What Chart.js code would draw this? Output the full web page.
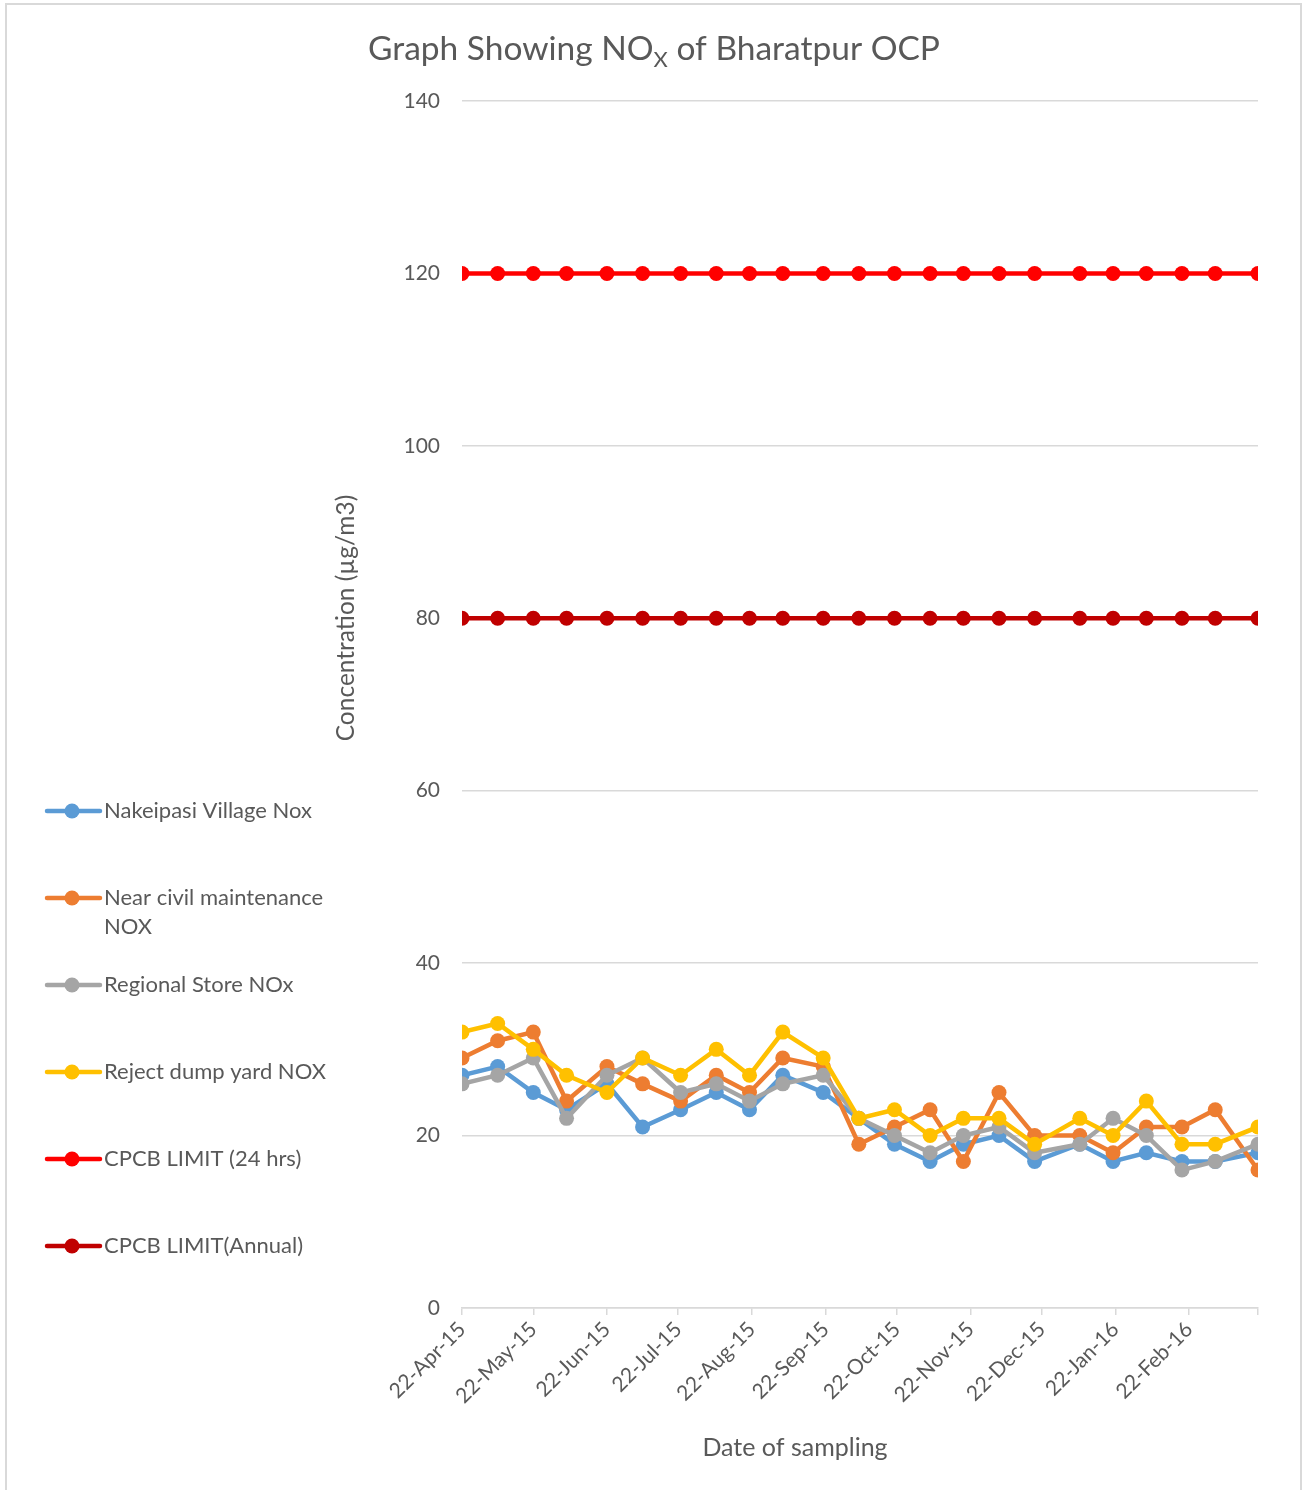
<!DOCTYPE html>
<html>
<head>
<meta charset="utf-8">
<script src="https://cdn.jsdelivr.net/npm/chart.js@4.4.1/dist/chart.umd.min.js"></script>
<style>
html,body{margin:0;padding:0;background:#fff;}
#wrap{position:relative;width:1304px;height:1490px;}
</style>
</head>
<body>
<div id="wrap"><canvas id="c" width="1304" height="1490"></canvas></div>
<script>
// ---------------- DATA ----------------
const sampleDates = ['22-Apr-15','07-May-15','22-May-15','05-Jun-15','22-Jun-15','07-Jul-15','23-Jul-15','07-Aug-15','21-Aug-15','04-Sep-15','21-Sep-15','06-Oct-15','21-Oct-15','05-Nov-15','19-Nov-15','04-Dec-15','19-Dec-15','07-Jan-16','21-Jan-16','04-Feb-16','19-Feb-16','04-Mar-16','22-Mar-16'];
const tickLabels = ['22-Apr-15','22-May-15','22-Jun-15','22-Jul-15','22-Aug-15','22-Sep-15','22-Oct-15','22-Nov-15','22-Dec-15','22-Jan-16','22-Feb-16'];
const axisEndDate = '22-Mar-16';
const seriesNames = ['Nakeipasi Village Nox','Near civil maintenance NOX','Regional Store NOx','Reject dump yard NOX','CPCB LIMIT (24 hrs)','CPCB LIMIT(Annual)'];
const nakeipasi   = [27,28,25,23,26,21,23,25,23,27,25,22,19,17,19,20,17,19,17,18,17,17,18];
const civilMaint  = [29,31,32,24,28,26,24,27,25,29,28,19,21,23,17,25,20,20,18,21,21,23,16];
const regStore    = [26,27,29,22,27,29,25,26,24,26,27,22,20,18,20,21,18,19,22,20,16,17,19];
const rejectDump  = [32,33,30,27,25,29,27,30,27,32,29,22,23,20,22,22,19,22,20,24,19,19,21];
const limit24h    = [120,120,120,120,120,120,120,120,120,120,120,120,120,120,120,120,120,120,120,120,120,120,120];
const limitAnnual = [80,80,80,80,80,80,80,80,80,80,80,80,80,80,80,80,80,80,80,80,80,80,80];
const yTicks = [0,20,40,60,80,100,120,140];

// ---------------- HELPERS ----------------
const MONTHS = ['Jan','Feb','Mar','Apr','May','Jun','Jul','Aug','Sep','Oct','Nov','Dec'];
function dayNum(s){
  const p = s.split('-');
  return Date.UTC(2000 + parseInt(p[2],10), MONTHS.indexOf(p[1]), parseInt(p[0],10)) / 86400000;
}
const xVals = sampleDates.map(dayNum);
const tickVals = tickLabels.map(dayNum).concat([dayNum(axisEndDate)]);
const pts = arr => arr.map((v,i)=>({x:xVals[i], y:v}));

const FONT = 'Lato, "Open Sans", sans-serif';
const TXT = '#595959';
const colors = ['#5B9BD5','#ED7D31','#A5A5A5','#FFC000','#FF0000','#C00000'];
const seriesData = [nakeipasi, civilMaint, regStore, rejectDump, limit24h, limitAnnual];

const datasets = seriesData.map((arr,i)=>({
  label: seriesNames[i],
  data: pts(arr),
  borderColor: colors[i],
  backgroundColor: colors[i],
  pointBackgroundColor: colors[i],
  pointBorderColor: colors[i],
  borderWidth: 4.5,
  pointRadius: 7.5,
  pointBorderWidth: 0,
  tension: 0,
  order: 6 - i
}));

// ---------------- PLUGIN: title, axis titles, legend, border ----------------
const decor = {
  id: 'decor',
  afterDraw(chart){
    const ctx = chart.ctx;
    ctx.save();
    // border
    ctx.strokeStyle = '#d9d9d9';
    ctx.lineWidth = 2;
    ctx.strokeRect(6, 4, 1295, 1500);

    // title with subscript
    ctx.fillStyle = TXT;
    ctx.textBaseline = 'alphabetic';
    const tSize = 33.5, sSize = 22;
    const parts = [['Graph Showing NO', tSize, 0], ['X', sSize, 7], [' of Bharatpur OCP', tSize, 0]];
    let total = 0;
    parts.forEach(p=>{ ctx.font = p[1]+'px '+FONT; p.push(ctx.measureText(p[0]).width); total += p[3]; });
    let x = 654 - total/2;
    parts.forEach(p=>{ ctx.font = p[1]+'px '+FONT; ctx.textAlign='left'; ctx.fillText(p[0], x, 60 + p[2]); x += p[3]; });

    // x-axis title
    ctx.font = '25px '+FONT;
    ctx.textAlign = 'center';
    ctx.fillText('Date of sampling', 795, 1456);

    // y-axis title
    ctx.save();
    ctx.translate(346, 618);
    ctx.rotate(-Math.PI/2);
    ctx.font = '24.5px '+FONT;
    ctx.textAlign = 'center';
    ctx.textBaseline = 'middle';
    ctx.fillText('Concentration (µg/m3)', 0, 0);
    ctx.restore();

    // legend
    ctx.font = '22px '+FONT;
    ctx.textAlign = 'left';
    ctx.textBaseline = 'middle';
    const maxW = 240;
    chart.data.datasets.forEach((ds,i)=>{
      const y = 811 + i*87;
      ctx.strokeStyle = ds.borderColor;
      ctx.lineWidth = 4.5;
      ctx.lineCap = 'round';
      ctx.beginPath(); ctx.moveTo(47, y); ctx.lineTo(100, y); ctx.stroke();
      ctx.fillStyle = ds.borderColor;
      ctx.beginPath(); ctx.arc(72, y, 7.5, 0, Math.PI*2); ctx.fill();
      // wrap text
      const words = ds.label.split(' ');
      const lines = []; let cur = '';
      words.forEach(w=>{
        const t = cur ? cur+' '+w : w;
        if (ctx.measureText(t).width > maxW && cur) { lines.push(cur); cur = w; } else cur = t;
      });
      lines.push(cur);
      ctx.fillStyle = TXT;
      lines.forEach((ln,k)=> ctx.fillText(ln, 104, y + k*29));
    });
    ctx.restore();
  }
};

// ---------------- CHART ----------------
new Chart(document.getElementById('c'), {
  type: 'line',
  data: { datasets },
  plugins: [decor],
  options: {
    responsive: false,
    animation: false,
    events: [],
    layout: { padding: { left: 0, top: 101, right: 46, bottom: 0 } },
    plugins: { legend: { display: false }, title: { display: false }, tooltip: { enabled: false } },
    scales: {
      x: {
        type: 'linear',
        min: tickVals[0],
        max: tickVals[tickVals.length-1],
        afterBuildTicks: s => { s.ticks = tickVals.map(v=>({value:v})); },
        afterFit: s => { s.height = 182; },
        grid: { drawOnChartArea: false, drawTicks: true, tickLength: 7, color: '#d9d9d9', lineWidth: 1.5 },
        border: { display: true, color: '#d9d9d9', width: 1.5 },
        ticks: {
          autoSkip: false,
          minRotation: 45, maxRotation: 45,
          padding: 2,
          color: TXT,
          font: { family: FONT, size: 21 },
          callback: (v, i) => (i < tickLabels.length ? tickLabels[i] : '')
        }
      },
      y: {
        min: 0, max: 140,
        afterBuildTicks: s => { s.ticks = yTicks.map(v=>({value:v})); },
        afterFit: s => { s.width = 462; },
        grid: { color: '#d9d9d9', lineWidth: 1.5, drawTicks: false },
        border: { display: false },
        ticks: { color: TXT, padding: 22, font: { family: FONT, size: 21 } }
      }
    }
  }
});
</script>
</body>
</html>
